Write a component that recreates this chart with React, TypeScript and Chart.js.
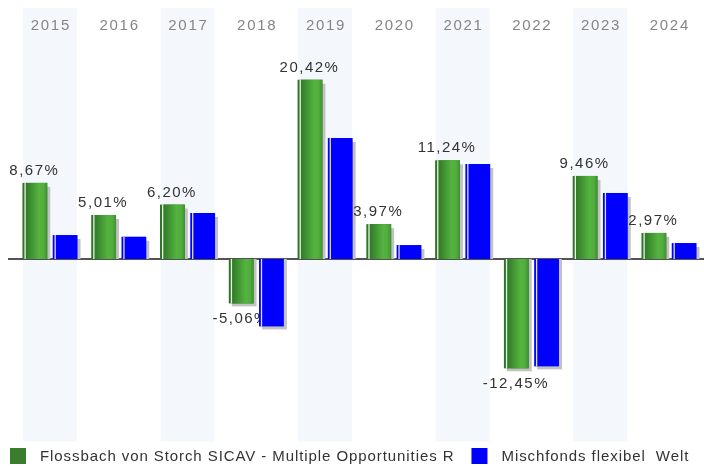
import React, { useEffect, useRef } from "react";
import { Chart, registerables } from "chart.js";

Chart.register(...registerables);

const years = ["2015", "2016", "2017", "2018", "2019", "2020", "2021", "2022", "2023", "2024"];
const fundValues = [8.67, 5.01, 6.2, -5.06, 20.42, 3.97, 11.24, -12.45, 9.46, 2.97];
const peerValues = [2.73, 2.54, 5.24, -7.68, 13.78, 1.59, 10.82, -12.23, 7.52, 1.82];
const seriesNames = ["Flossbach von Storch SICAV - Multiple Opportunities R", "Mischfonds flexibel  Welt"];
const seriesColors = ["#3a7d2c", "#0000ff"];
const yMin = -20.73;
const yMax = 28.59;

const FONT = "'Liberation Sans', Arial, Helvetica, sans-serif";

const fmt = (v: number) => v.toFixed(2).replace(".", ",") + "%";

const customDraw = {
  id: "customDraw",
  beforeDatasetDraw() {
    return false;
  },
  beforeDatasetsDraw(chart: any) {
    const ctx = chart.ctx as CanvasRenderingContext2D;
    const area = chart.chartArea;
    const xs = chart.scales.x;
    const ys = chart.scales.y;
    const catW = (area.right - area.left) / years.length;
    ctx.save();
    // alternating bands
    ctx.fillStyle = "#f4f8fc";
    years.forEach((_, i) => {
      if (i % 2 === 0) {
        const cx = xs.getPixelForValue(i);
        const bw = catW * 0.785;
        ctx.fillRect(cx - bw / 2, area.top, bw, area.bottom - area.top + 0.5);
      }
    });
    // year labels
    ctx.fillStyle = "#858585";
    ctx.font = `15px ${FONT}`;
    (ctx as any).letterSpacing = "1.7px";
    ctx.textAlign = "center";
    ctx.textBaseline = "alphabetic";
    years.forEach((y, i) => {
      ctx.fillText(y, xs.getPixelForValue(i) + 0.85, area.top + 22);
    });
    (ctx as any).letterSpacing = "0px";
    // zero line
    const y0 = ys.getPixelForValue(0);
    ctx.strokeStyle = "#1a1a1a";
    ctx.lineWidth = 1.5;
    ctx.beginPath();
    ctx.moveTo(8, y0);
    ctx.lineTo(chart.width, y0);
    ctx.stroke();

    const metas = [chart.getDatasetMeta(0), chart.getDatasetMeta(1)];
    // shadows
    ctx.fillStyle = "#c2c2c2";
    metas.forEach((meta: any) => {
      meta.data.forEach((el: any) => {
        const p = el.getProps(["x", "y", "base", "width"], true);
        const left = p.x - p.width / 2;
        if (p.y <= p.base) {
          ctx.fillRect(left + 3, p.y + 4, p.width, p.base - p.y - 4);
        } else {
          ctx.fillRect(left + 3, p.base, p.width, p.y - p.base + 3);
        }
      });
    });

    const drawBars = (di: number) => {
      const meta = metas[di];
      meta.data.forEach((el: any) => {
        const p = el.getProps(["x", "y", "base", "width"], true);
        const left = p.x - p.width / 2;
        const top = Math.min(p.y, p.base);
        const h = Math.abs(p.y - p.base);
        if (di === 0) {
          ctx.fillStyle = "#2f7526";
          ctx.fillRect(left, top, p.width, h);
          const g = ctx.createLinearGradient(left + 3.3, 0, left + p.width, 0);
          g.addColorStop(0, "#307a27");
          g.addColorStop(0.62, "#55b33f");
          g.addColorStop(0.82, "#52ae3d");
          g.addColorStop(1, "#3f9032");
          ctx.fillStyle = g;
          ctx.fillRect(left + 3.3, top, p.width - 3.3, h);
          ctx.fillStyle = "rgba(255,255,255,0.9)";
          ctx.fillRect(left + 2, top, 1.3, h);
        } else {
          ctx.fillStyle = "#0000ff";
          ctx.fillRect(left, top, p.width, h);
          ctx.fillStyle = "rgba(235,235,255,0.95)";
          ctx.fillRect(left + 1.8, top, 1.3, h);
        }
      });
    };

    drawBars(0);
    // value labels of the fund
    ctx.fillStyle = "#333333";
    ctx.font = `15px ${FONT}`;
    (ctx as any).letterSpacing = "1.5px";
    ctx.textAlign = "center";
    ctx.textBaseline = "alphabetic";
    metas[0].data.forEach((el: any, i: number) => {
      const p = el.getProps(["x", "y", "base", "width"], true);
      const v = fundValues[i];
      if (v >= 0) ctx.fillText(fmt(v), p.x - 0.5, p.y - 8);
      else ctx.fillText(fmt(v), p.x - 0.5, p.y + 20);
    });
    (ctx as any).letterSpacing = "0px";
    drawBars(1);

    // legend
    ctx.font = `15px ${FONT}`;
    (ctx as any).letterSpacing = "0.92px";
    ctx.textAlign = "left";
    ctx.textBaseline = "middle";
    let lx = 10;
    const ly = area.bottom + 7;
    seriesNames.forEach((name, i) => {
      ctx.fillStyle = seriesColors[i];
      ctx.fillRect(lx, ly, 16, 16);
      ctx.fillStyle = "#333333";
      ctx.fillText(name, lx + 30, ly + 8.5);
      lx += 30 + ctx.measureText(name).width + 17;
    });
    (ctx as any).letterSpacing = "0px";
    ctx.restore();
  },
};

export default function App() {
  const ref = useRef<HTMLCanvasElement | null>(null);
  useEffect(() => {
    if (!ref.current) return;
    const chart = new Chart(ref.current, {
      type: "bar",
      data: {
        labels: years,
        datasets: [
          { label: seriesNames[0], data: fundValues, backgroundColor: seriesColors[0] },
          { label: seriesNames[1], data: peerValues, backgroundColor: seriesColors[1] },
        ],
      },
      options: {
        responsive: false,
        animation: false,
        devicePixelRatio: 1,
        layout: { padding: { left: 15.6, right: 0.6, top: 8, bottom: 25 } },
        datasets: { bar: { categoryPercentage: 0.88, barPercentage: 0.82 } },
        plugins: { legend: { display: false }, tooltip: { enabled: false } },
        scales: {
          x: { display: false, offset: true, grid: { display: false } },
          y: { display: false, min: yMin, max: yMax },
        },
      },
      plugins: [customDraw],
    });
    return () => chart.destroy();
  }, []);
  return (
    <div style={{ position: "absolute", left: 0, top: 0, width: 704, height: 466, background: "#fff" }}>
      <canvas ref={ref} width={704} height={466} style={{ display: "block" }} />
    </div>
  );
}
